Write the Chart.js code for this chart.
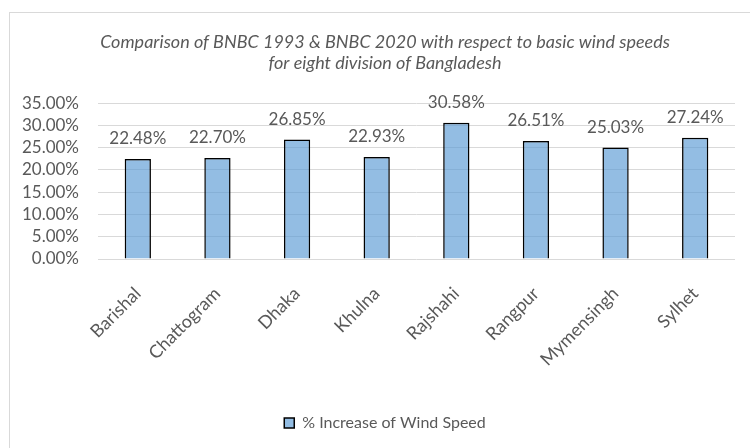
<!DOCTYPE html>
<html>
<head>
<meta charset="utf-8">
<script src="https://cdn.jsdelivr.net/npm/chart.js@4/dist/chart.umd.min.js"></script>
<style>
  html, body { margin: 0; padding: 0; background: #ffffff; }
  #wrap { position: relative; width: 750px; height: 448px; overflow: hidden; }
  #frame { position: absolute; left: 9px; top: 12px; width: 800px; height: 500px;
           border-left: 1.5px solid #d9d9d9; border-top: 1.5px solid #d9d9d9; box-sizing: border-box; }
  canvas { position: absolute; left: 0; top: 0; }
</style>
</head>
<body>
<div id="wrap">
  <div id="frame"></div>
  <canvas id="c" width="750" height="448"></canvas>
</div>
<script>
const titleLines = [
  'Comparison of BNBC 1993 & BNBC 2020 with respect to basic wind speeds',
  'for eight division of Bangladesh'
];
const divisions = ['Barishal', 'Chattogram', 'Dhaka', 'Khulna', 'Rajshahi', 'Rangpur', 'Mymensingh', 'Sylhet'];
const increasePct = [22.48, 22.70, 26.85, 22.93, 30.58, 26.51, 25.03, 27.24];
const seriesName = '% Increase of Wind Speed';
const yMin = 0, yMax = 35, yStep = 5;

const TEXT = '#595959';
const FONT = 'Lato, "Open Sans", sans-serif';

const valueLabels = {
  id: 'valueLabels',
  afterDatasetsDraw(chart) {
    const ctx = chart.ctx;
    const meta = chart.getDatasetMeta(0);
    ctx.save();
    ctx.font = '17px ' + FONT;
    ctx.fillStyle = TEXT;
    ctx.textAlign = 'center';
    ctx.textBaseline = 'middle';
    meta.data.forEach((el, i) => {
      ctx.fillText(increasePct[i].toFixed(2) + '%', el.x, el.y - 20);
    });
    ctx.restore();
  }
};

new Chart(document.getElementById('c'), {
  type: 'bar',
  data: {
    labels: divisions,
    datasets: [{
      label: seriesName,
      data: increasePct,
      backgroundColor: 'rgba(91,155,213,0.66)',
      borderColor: '#000000',
      borderWidth: 1.5,
      barPercentage: 0.33,
      categoryPercentage: 1.0
    }]
  },
  options: {
    responsive: false,
    animation: false,
    layout: { padding: { left: 35, right: 15, top: 20, bottom: 7 } },
    plugins: {
      title: {
        display: true,
        text: titleLines,
        color: TEXT,
        font: { family: FONT, size: 18, style: 'italic', weight: 'normal', lineHeight: 1.17 },
        padding: { top: 12, bottom: 29 }
      },
      legend: {
        display: true,
        position: 'bottom',
        labels: {
          color: TEXT,
          font: { family: FONT, size: 16 },
          boxWidth: 10,
          boxHeight: 10,
          padding: 10
        }
      },
      tooltip: { enabled: false }
    },
    scales: {
      x: {
        grid: { display: false },
        border: { display: false },
        ticks: {
          color: TEXT,
          font: { family: FONT, size: 18 },
          minRotation: 45,
          maxRotation: 45,
          autoSkip: false,
          padding: 16
        },
        afterFit(scale) { scale.height = 146; }
      },
      y: {
        min: yMin,
        max: yMax,
        grid: { color: '#d9d9d9', lineWidth: 1, drawTicks: false },
        border: { display: false },
        ticks: {
          stepSize: yStep,
          autoSkip: false,
          color: TEXT,
          font: { family: FONT, size: 17 },
          padding: 19,
          callback: v => Number(v).toFixed(2) + '%'
        },
        afterFit(scale) {
          scale.width = 63;
          scale._computeLabelArea = function () { return undefined; };
        }
      }
    }
  },
  plugins: [valueLabels]
});
</script>
</body>
</html>
